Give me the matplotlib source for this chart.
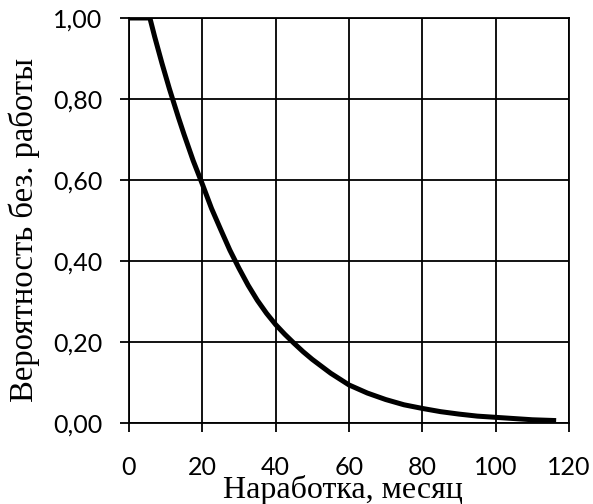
import numpy as np
import matplotlib
matplotlib.use('Agg')
import matplotlib.pyplot as plt
from matplotlib.ticker import FuncFormatter

# наработка, месяц / вероятность безотказной работы
months = [0, 5.7, 7, 8, 9, 10, 11, 12, 13.5, 15, 17.5, 20, 22.5, 25, 27.5,
          30, 32.5, 35, 37.5, 40, 42.5, 45, 47.5, 50, 55, 60, 65, 70, 75,
          80, 85, 90, 95, 100, 105, 110, 116.5]
prob = [1.0, 1.0, 0.954, 0.921, 0.888, 0.857, 0.826, 0.797, 0.754, 0.713,
        0.648, 0.590, 0.530, 0.478, 0.427, 0.382, 0.340, 0.303, 0.271,
        0.243, 0.219, 0.197, 0.176, 0.157, 0.123, 0.094, 0.074, 0.058,
        0.045, 0.036, 0.028, 0.022, 0.017, 0.014, 0.011, 0.008, 0.006]
xticks = [0, 20, 40, 60, 80, 100, 120]
yticks = [0.0, 0.2, 0.4, 0.6, 0.8, 1.0]

fig = plt.figure(figsize=(5.93, 5.04), dpi=100)
ax = fig.add_axes([0.2175, 0.1607, 0.742, 0.8036])

ax.plot(months, prob, color='black', lw=3.6, solid_capstyle='butt',
        solid_joinstyle='round')
ax.set_xlim(0, 120)
ax.set_ylim(0, 1)
ax.set_xticks(xticks)
ax.set_yticks(yticks)
ax.yaxis.set_major_formatter(FuncFormatter(lambda v, p: ('%.2f' % v).replace('.', ',')))
ax.grid(True, color='black', lw=1.3)
ax.set_axisbelow(True)
for s in ax.spines.values():
    s.set_color('black')
    s.set_linewidth(1.3)
ax.tick_params(direction='out', length=6.5, width=1.3, color='black')
ax.tick_params(axis='x', pad=17)
ax.tick_params(axis='y', pad=12.5)
for lab in ax.get_xticklabels() + ax.get_yticklabels():
    lab.set_fontfamily('Lato')
    lab.set_fontsize(18)

ax.set_xlabel('Наработка, месяц', family='Liberation Serif', fontsize=23)
ax.xaxis.set_label_coords(0.487, -0.128)
ax.set_ylabel('Вероятность без. работы', family='Liberation Serif', fontsize=23.5)
ax.yaxis.set_label_coords(-0.203, 0.476)

fig.savefig('out.png', dpi=100)
plt.close(fig)
